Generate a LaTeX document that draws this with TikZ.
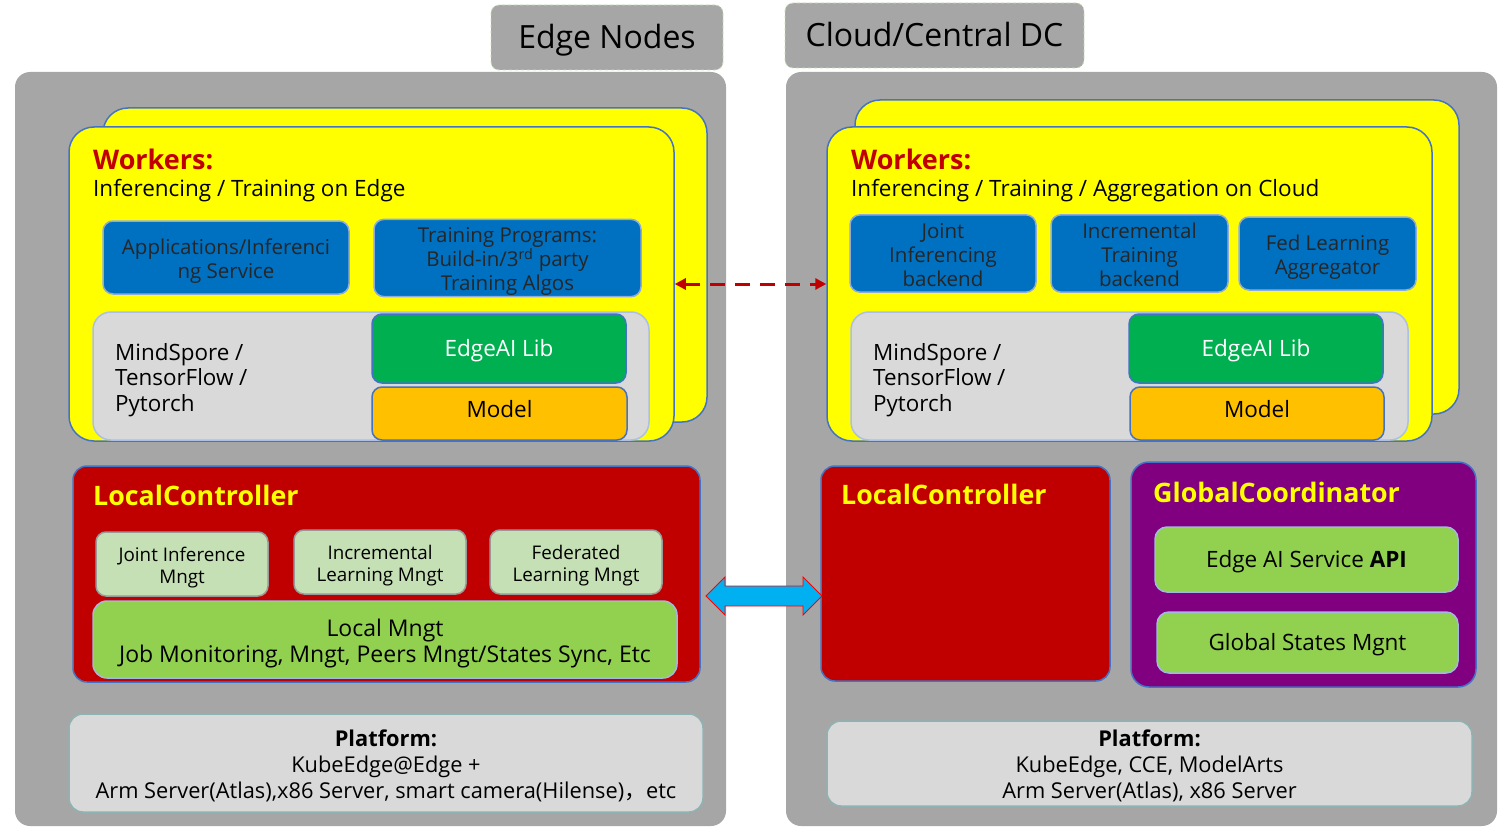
\documentclass[tikz,border=0pt]{standalone}
\usepackage{fontspec}
\setmainfont{Open Sans}
\newfontfamily\cjk{Noto Sans CJK SC}
\usepackage{tikz}
\usetikzlibrary{arrows.meta,calc}

\definecolor{panelgray}{HTML}{A6A6A6}
\definecolor{tagline}{HTML}{C5E0B4}
\definecolor{wyellow}{HTML}{FFFF00}
\definecolor{edgeblue}{HTML}{4472C4}
\definecolor{boxblue}{HTML}{0070C0}
\definecolor{framegray}{HTML}{D9D9D9}
\definecolor{libgreen}{HTML}{00B050}
\definecolor{modelorange}{HTML}{FFC000}
\definecolor{ctrlred}{HTML}{C00000}
\definecolor{mngtlight}{HTML}{C5E0B4}
\definecolor{mngtgreen}{HTML}{92D050}
\definecolor{coordpurple}{HTML}{800080}
\definecolor{platline}{HTML}{8FB3B3}
\definecolor{linkcyan}{HTML}{00B0F0}

\newcommand{\fs}[2]{\fontsize{#1}{#2}\selectfont}
% struts for multi-line text
\newcommand{\ts}{\rule{0pt}{1.15em}}
\newcommand{\td}{\rule[-0.28em]{0pt}{0.28em}}

\tikzset{
  txt/.style 2 args={execute at begin node={\rule[-#2pt]{0pt}{#1pt}}, execute at end node={\rule[-#2pt]{0pt}{#2pt}}},
  panel/.style={fill=panelgray, draw=none, rounded corners=15pt, inner sep=0pt},
  tag/.style={txt={42}{9.6}, fill=panelgray, draw=tagline, dashed, line width=0.8pt, rounded corners=8pt, inner sep=0pt, font=\fs{32}{38}},
  worker/.style={fill=wyellow, draw=edgeblue, line width=1.5pt, rounded corners=25pt, inner sep=0pt},
  wtitle/.style={anchor=west, inner sep=0pt, text=ctrlred, font=\bfseries\fs{27}{32}},
  wsub/.style={txt={29.5}{6.75}, anchor=west, inner sep=0pt, font=\fs{22.5}{26}},
  bluebox/.style={fill=boxblue, draw=edgeblue!60, line width=1.5pt, rounded corners=10pt, inner sep=0pt, align=center, text=black!85, font=\fs{20.5}{24}},
  frame/.style={fill=framegray, draw=edgeblue!45, line width=1.5pt, rounded corners=18pt, inner sep=0pt},
  fwtext/.style={anchor=west, inner sep=0pt, align=left, font=\fs{22.4}{25.5}},
  libbox/.style={txt={29.5}{6.75}, fill=libgreen, draw=edgeblue, line width=1.5pt, rounded corners=10pt, inner sep=0pt, text=white, font=\fs{22.5}{25}},
  modelbox/.style={txt={26.2}{9.1}, fill=modelorange, draw=edgeblue, line width=1.5pt, rounded corners=10pt, inner sep=0pt, font=\fs{22.5}{25}},
  ctrl/.style={fill=ctrlred, draw=edgeblue, line width=1.5pt, rounded corners=14pt, inner sep=0pt},
  coord/.style={fill=coordpurple, draw=edgeblue, line width=1.5pt, rounded corners=18pt, inner sep=0pt},
  ctitle/.style={anchor=west, inner sep=0pt, text=wyellow, font=\bfseries\fs{26.8}{30}},
  mngt/.style={fill=mngtlight, draw=gray!80, line width=1.5pt, rounded corners=10pt, inner sep=0pt, align=center, font=\fs{18.8}{22}},
  localmngt/.style={fill=mngtgreen, draw=edgeblue!50, line width=1.5pt, rounded corners=14pt, inner sep=0pt, align=center, font=\fs{23}{26}},
  gbox/.style={txt={29.5}{6.75}, fill=mngtgreen, draw=edgeblue!50, line width=1.5pt, rounded corners=12pt, inner sep=0pt, font=\fs{22.5}{25}},
  platform/.style={fill=framegray, draw=platline, line width=1.5pt, rounded corners=14pt, inner sep=0pt, align=center, font=\fs{21.8}{26}},
  dasharrow/.style={draw=ctrlred, line width=3pt, dash pattern=on 15pt off 10pt, {Triangle[length=11pt,width=11pt]}-{Triangle[length=11pt,width=11pt]}},
  dbl/.style={fill=linkcyan, draw=red, line width=0.8pt}
}

\begin{document}
\begin{tikzpicture}[x=1pt, y=-1pt]
  \useasboundingbox (0,0) rectangle (1504,832);

  %Tags
  \node[tag, minimum width=232, minimum height=65] (edgetag) at (607,37.5) {Edge Nodes};
  \node[tag, minimum width=299, minimum height=65] (cloudtag) at (934.5,35.5) {Cloud/Central DC};

  %Panels
  \node[panel, minimum width=711, minimum height=754] (edge) at (370.5,449) {};
  \node[panel, minimum width=711, minimum height=754] (cloud) at (1141.5,449) {};

  %Workers, edge
  \node[worker, minimum width=604, minimum height=314] (wbE) at (405,265) {};
  \node[worker, minimum width=605, minimum height=314] (wfE) at (371.5,284) {};
  \node[wtitle] (wtE) at (93,159) {Workers:};
  \node[wsub] (wsE) at (93,188) {Inferencing / Training on Edge};
  \node[bluebox, minimum width=246, minimum height=73] (app) at (226,257.5) {\ts Applications/Inferenci\\ng Service\td};
  \node[bluebox, minimum width=267, minimum height=74] (train) at (507.5,258) {\ts Training Programs:\\Build-in/3\textsuperscript{rd} party\\Training Algos\td};
  \node[frame, minimum width=556, minimum height=128] (fwE) at (371,376) {};
  \node[fwtext] (fwtE) at (115,376) {\ts MindSpore /\\TensorFlow /\\Pytorch\td};
  \node[libbox, minimum width=254, minimum height=69] (libE) at (499,348.5) {EdgeAI Lib};
  \node[modelbox, minimum width=255, minimum height=53] (modE) at (499.5,413.5) {Model};

  %Workers, cloud
  \node[worker, minimum width=604, minimum height=314] (wbC) at (1157,257) {};
  \node[worker, minimum width=605, minimum height=314] (wfC) at (1129.5,284) {};
  \node[wtitle] (wtC) at (851,159) {Workers:};
  \node[wsub] (wsC) at (851,188) {Inferencing / Training / Aggregation on Cloud};
  \node[bluebox, minimum width=186, minimum height=73] (jib) at (943,253.5) {\ts Joint\\Inferencing\\backend\td};
  \node[bluebox, minimum width=177, minimum height=73] (itb) at (1139.5,253.5) {\ts Incremental\\Training\\backend\td};
  \node[bluebox, minimum width=177, minimum height=73] (fla) at (1327.5,253.5) {\ts Fed Learning\\Aggregator\td};
  \node[frame, minimum width=557, minimum height=128] (fwC) at (1129.5,376) {};
  \node[fwtext] (fwtC) at (873,376) {\ts MindSpore /\\TensorFlow /\\Pytorch\td};
  \node[libbox, minimum width=254, minimum height=69] (libC) at (1256,348.5) {EdgeAI Lib};
  \node[modelbox, minimum width=254, minimum height=53] (modC) at (1257,413.5) {Model};

  %Controllers
  \node[ctrl, minimum width=627, minimum height=216] (lcE) at (386.5,574) {};
  \node[ctitle] (lctE) at (93,495) {LocalController};
  \node[mngt, minimum width=172, minimum height=64] (jim) at (182,564) {\ts Joint Inference\\Mngt\td};
  \node[mngt, minimum width=172, minimum height=64] (ilm) at (380,562) {\ts Incremental\\Learning Mngt\td};
  \node[mngt, minimum width=172, minimum height=64] (flm) at (576,562) {\ts Federated\\Learning Mngt\td};
  \node[localmngt, minimum width=584, minimum height=77] (lm) at (385,639.5) {\ts Local Mngt\\Job Monitoring, Mngt, Peers Mngt/States Sync, Etc\td};

  \node[ctrl, minimum width=289, minimum height=215] (lcC) at (965.5,573.5) {};
  \node[ctitle] (lctC) at (841,494) {LocalController};
  \node[coord, minimum width=345, minimum height=225] (gc) at (1303.5,574.5) {};
  \node[ctitle] (gct) at (1153,492) {GlobalCoordinator};
  \node[gbox, minimum width=303, minimum height=65] (api) at (1306.5,559.5) {Edge AI Service \textbf{API}};
  \node[gbox, minimum width=301, minimum height=61] (gsm) at (1307.5,642.5) {Global States Mgnt};

  %Platforms
  \node[platform, minimum width=634, minimum height=98] (platE) at (386,763) {\ts\textbf{Platform:}\\KubeEdge@Edge +\\Arm Server(Atlas),x86 Server, smart camera(Hilense){\cjk ，}etc\td};
  \node[platform, minimum width=645, minimum height=85] (platC) at (1149.5,763.5) {\ts\textbf{Platform:}\\KubeEdge, CCE, ModelArts\\Arm Server(Atlas), x86 Server\td};

  %Links
  \draw[dasharrow] (wfE.east) -- (wfC.west);
  \coordinate (al) at (706,596);
  \coordinate (ar) at (822,596);
  \draw[dbl] (al) -- ++(19,-19) -- ++(0,9) -- ($(ar)+(-19,-10)$) -- ++(0,-9) -- (ar)
    -- ++(-19,19) -- ++(0,-9) -- ($(al)+(19,10)$) -- ++(0,9) -- cycle;
\end{tikzpicture}
\end{document}
